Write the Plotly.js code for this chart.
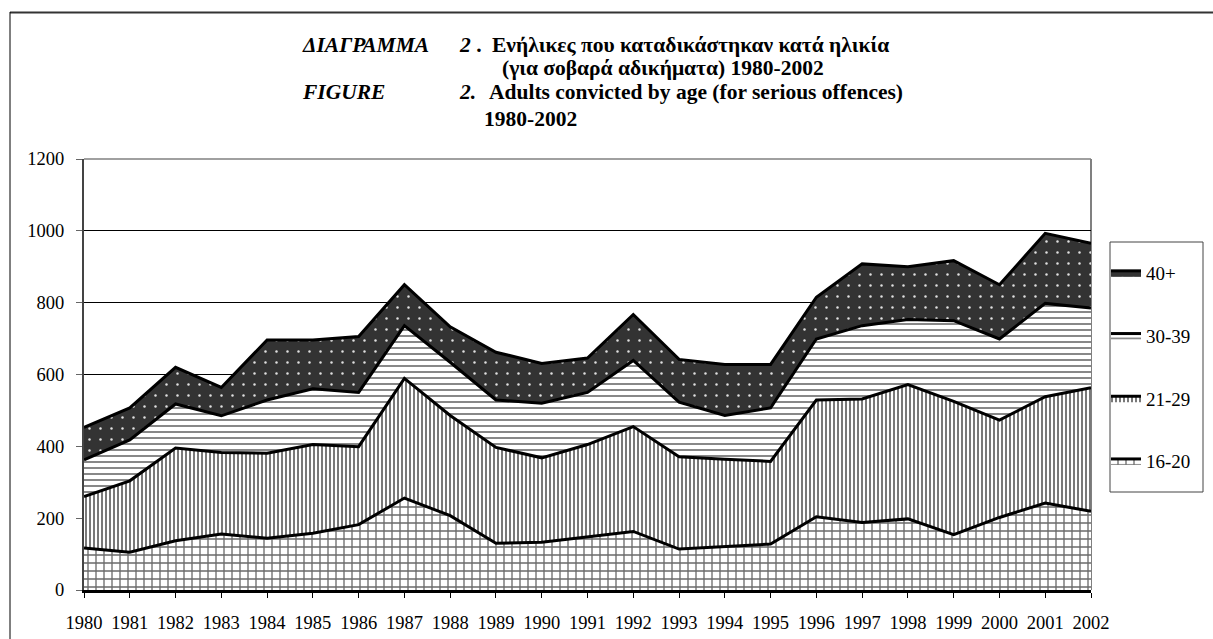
<!DOCTYPE html>
<html>
<head>
<meta charset="utf-8">
<script src="https://cdn.plot.ly/plotly-3.0.1.min.js"></script>
<style>
  html, body { margin: 0; padding: 0; background: #fff; }
  #chart { width: 1213px; height: 639px; }
</style>
</head>
<body>
<div id="chart"></div>
<script>
// ---- Data ----
const years = [1980, 1981, 1982, 1983, 1984, 1985, 1986, 1987, 1988, 1989, 1990, 1991,
               1992, 1993, 1994, 1995, 1996, 1997, 1998, 1999, 2000, 2001, 2002];
const age16_20 = [117, 105, 137, 156, 144, 158, 182, 256, 207, 130, 133, 148,
                  163, 114, 121, 128, 204, 188, 198, 154, 202, 242, 219];
const age21_29 = [143, 199, 258, 227, 237, 247, 217, 333, 279, 267, 235, 257,
                  292, 257, 243, 230, 325, 344, 374, 371, 271, 296, 344];
const age30_39 = [102, 114, 123, 102, 148, 155, 151, 147, 148, 132, 152, 145,
                  184, 152, 122, 149, 170, 204, 181, 225, 226, 260, 222];
const age40p   = [91, 89, 102, 79, 167, 136, 156, 114, 99, 133, 111, 96,
                  128, 119, 142, 121, 116, 172, 147, 167, 151, 195, 180];
const seriesNames = ['16-20', '21-29', '30-39', '40+'];
const yTicks = [0, 200, 400, 600, 800, 1000, 1200];

// ---- Layout geometry (pixels) ----
const W = 1213, H = 639;
const L = 84, R = 1091, T = 159, B = 590;
const px = x => (x - L) / (R - L);
const py = y => (B - y) / (B - T);

const FONT = 'Liberation Serif';

const patterns = [
  {shape: '+', bgcolor: '#ffffff', fgcolor: '#6a6a6a', size: 8, solidity: 0.3},
  {shape: '|', bgcolor: '#ffffff', fgcolor: '#6a6a6a', size: 4, solidity: 0.45},
  {shape: '-', bgcolor: '#ffffff', fgcolor: '#7a7a7a', size: 6, solidity: 0.3},
  {shape: '.', bgcolor: '#333333', fgcolor: '#e0e0e0', size: 11, solidity: 0.04}
];
const fills = ['#ffffff', '#ffffff', '#ffffff', '#333333'];
const values = [age16_20, age21_29, age30_39, age40p];

const traces = values.map((v, i) => ({
  type: 'scatter',
  mode: 'lines',
  x: years,
  y: v,
  name: seriesNames[i],
  stackgroup: 'one',
  legendgroup: 'g' + i,
  legendrank: 10 - i,
  line: {color: '#000000', width: 3},
  fillcolor: fills[i],
  fillpattern: patterns[i],
  hoverinfo: 'skip'
}));

const TITLE_SIZE = 21.5;
const ann = (x, y, text) => ({
  xref: 'paper', yref: 'paper', x: px(x), y: py(y),
  xanchor: 'left', yanchor: 'middle', showarrow: false, text: text,
  font: {family: FONT, size: TITLE_SIZE, color: '#000'}
});

const layout = {
  width: W, height: H,
  margin: {l: L, r: W - R, t: T, b: H - B, pad: 0},
  paper_bgcolor: '#ffffff',
  plot_bgcolor: '#ffffff',
  showlegend: true,
  legend: {
    x: px(1106), y: py(254), xanchor: 'left', yanchor: 'top',
    traceorder: 'grouped', tracegroupgap: 35,
    bgcolor: 'rgba(0,0,0,0)', borderwidth: 0,
    font: {family: FONT, size: 19, color: '#000'}
  },
  xaxis: {
    type: 'linear', range: [1980, 2002], tickvals: years, ticktext: years.map(String),
    showgrid: false, zeroline: false,
    showline: true, linecolor: '#000', linewidth: 3,
    ticks: 'outside', ticklen: 5, tickcolor: '#000', tickwidth: 1,
    ticklabelstandoff: 9,
    tickfont: {family: FONT, size: 18.5, color: '#000'},
    automargin: false, fixedrange: true
  },
  yaxis: {
    range: [0, 1200], tickvals: yTicks, ticktext: yTicks.map(String),
    showgrid: true, gridcolor: '#000', gridwidth: 1, zeroline: false,
    showline: true, linecolor: '#444', linewidth: 2,
    ticks: 'outside', ticklen: 6, tickcolor: '#666', tickwidth: 1,
    ticklabelstandoff: 8,
    tickfont: {family: FONT, size: 18.5, color: '#000'},
    automargin: false, fixedrange: true
  },
  shapes: [
    // outer frame (top and left)
    {type: 'line', xref: 'paper', yref: 'paper', x0: px(10), x1: px(W + 5), y0: py(12.5), y1: py(12.5),
     line: {color: '#333', width: 2}},
    {type: 'line', xref: 'paper', yref: 'paper', x0: px(10), x1: px(10), y0: py(12), y1: py(H + 5),
     line: {color: '#000', width: 1}},
    // plot area top and right edges (gray)
    {type: 'line', xref: 'paper', yref: 'paper', x0: 0, x1: 1, y0: 1, y1: 1,
     line: {color: '#808080', width: 1.5}},
    {type: 'line', xref: 'paper', yref: 'paper', x0: 1, x1: 1, y0: 0, y1: 1,
     line: {color: '#808080', width: 2}, layer: 'below'},
    // legend box
    {type: 'rect', xref: 'paper', yref: 'paper', x0: px(1110), x1: px(1203), y0: py(242), y1: py(492),
     line: {color: '#444', width: 1}, fillcolor: 'rgba(0,0,0,0)'}
  ],
  annotations: [
    ann(300, 45, '<b><i>ΔΙΑΓΡΑΜΜΑ</i></b>'),
    ann(457, 45, '<b><i>2</i> .</b>'),
    ann(490, 45, '<b>Ενήλικες που καταδικάστηκαν κατά ηλικία</b>'),
    ann(500, 68, '<b>(για σοβαρά αδικήματα) 1980-2002</b>'),
    ann(300, 92, '<b><i>FIGURE</i></b>'),
    ann(457, 92, '<b><i>2.</i></b>'),
    ann(487, 92, '<b>Adults convicted by age (for serious offences)</b>'),
    ann(482, 119, '<b>1980-2002</b>')
  ]
};

Plotly.newPlot('chart', traces, layout, {displayModeBar: false, staticPlot: true});
</script>
</body>
</html>
